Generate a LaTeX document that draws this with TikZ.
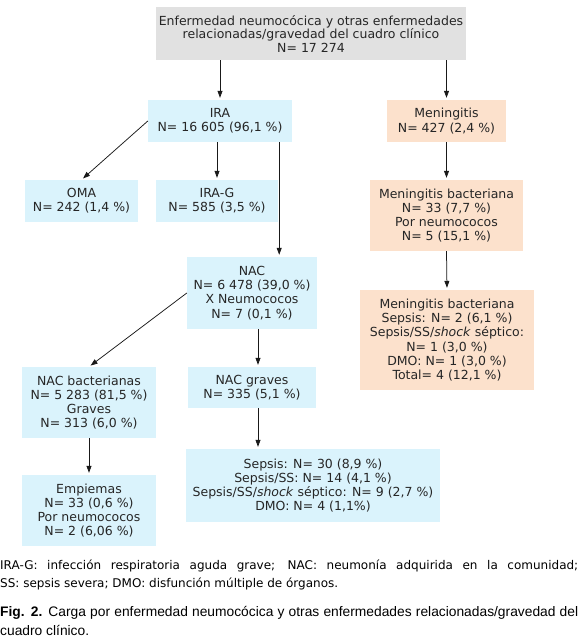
\documentclass[tikz,border=0pt]{standalone}
\usepackage{fontspec}
\setmainfont{DejaVu Sans}
\newfontfamily\figfont{Liberation Sans}
\usetikzlibrary{arrows.meta}
\definecolor{irablue}{RGB}{218,243,252}
\definecolor{menpeach}{RGB}{252,225,204}
\definecolor{topgray}{RGB}{225,225,225}
\begin{document}
\begin{tikzpicture}[x=1pt,y=-1pt,
    box/.style={align=center,inner sep=0pt,font=\fontsize{12.5}{14.2}\selectfont,text=black!85},
    bluebox/.style={box,fill=irablue},
    peachbox/.style={box,fill=menpeach},
    link/.style={-{Triangle[length=7pt,width=5pt]},line width=0.75pt,black!90,shorten >=2pt}]
  \useasboundingbox (0,0) rectangle (580,643);
  \draw
    (311,33.5) node[box,fill=topgray,minimum width=310,minimum height=53,
      font=\fontsize{12.5}{13.5}\selectfont] (top)
      {Enfermedad neumocócica y otras enfermedades\\relacionadas/gravedad del cuadro clínico\\N= 17 274}
    (220,121) node[bluebox,minimum width=144,minimum height=42] (ira)
      {IRA\\N= 16 605 (96,1 \%)}
    (446.5,121) node[peachbox,minimum width=119,minimum height=42] (men)
      {Meningitis\\N= 427 (2,4 \%)}
    (81.5,201) node[bluebox,minimum width=113,minimum height=42] (oma)
      {OMA\\N= 242 (1,4 \%)}
    (217,201) node[bluebox,minimum width=122,minimum height=42] (irag)
      {IRA-G\\N= 585 (3,5 \%)}
    (252,293) node[bluebox,minimum width=130,minimum height=72] (nac)
      {NAC\\N= 6 478 (39,0 \%)\\X Neumococos\\N= 7 (0,1 \%)}
    (89,402.5) node[bluebox,minimum width=134,minimum height=71] (nacb)
      {NAC bacterianas\\N= 5 283 (81,5 \%)\\Graves\\N= 313 (6,0 \%)}
    (252,387.5) node[bluebox,minimum width=128,minimum height=41] (nacg)
      {NAC graves\\N= 335 (5,1 \%)}
    (89,510.5) node[bluebox,minimum width=134,minimum height=71] (emp)
      {Empiemas\\N= 33 (0,6 \%)\\Por neumococos\\N= 2 (6,06 \%)}
    (313,485.5) node[bluebox,minimum width=254,minimum height=73] (sep)
      {Sepsis: N= 30 (8,9 \%)\\Sepsis/SS: N= 14 (4,1 \%)\\Sepsis/SS/\textit{shock} séptico: N= 9 (2,7 \%)\\DMO: N= 4 (1,1\%)}
    (446.5,215.5) node[peachbox,minimum width=153,minimum height=71] (menb)
      {Meningitis bacteriana\\N= 33 (7,7 \%)\\Por neumococos\\N= 5 (15,1 \%)}
    (447,340) node[peachbox,minimum width=174,minimum height=100] (mens)
      {Meningitis bacteriana\\Sepsis: N= 2 (6,1 \%)\\Sepsis/SS/\textit{shock} séptico:\\N= 1 (3,0 \%)\\DMO: N= 1 (3,0 \%)\\Total= 4 (12,1 \%)};
  \path (ira.south east) ++(-13,0) coordinate (irab)
        (nac.south) ++(6,0) coordinate (nacs)
        (nacg.south) ++(6,0) coordinate (nacgs);
  \begin{scope}[link]
    \draw (ira.north |- top.south) to (ira.north);
    \draw (men.north |- top.south) to (men.north);
    \draw (ira.west) to (oma.north);
    \draw (irag.north |- ira.south) to (irag.north);
    \draw (irab) to (irab |- nac.north);
    \draw (nac.west) to (nacb.north);
    \draw (nacs) to (nacs |- nacg.north);
    \draw (nacgs) to (nacgs |- sep.north);
    \draw (nacb.south) to (emp.north);
    \draw (men.south) to (menb.north);
    \draw (menb.south) to (mens.north);
  \end{scope}
  % notes under the chart
  \node[anchor=north west,inner sep=0pt,text width=578pt,align=justify,
    font=\fontsize{12}{18}\selectfont] (note) at (0,560)
    {IRA-G: infección respiratoria aguda grave; NAC: neumonía adquirida en la comunidad;\linebreak
     SS: sepsis severa; DMO: disfunción múltiple de órganos.};
  \node[anchor=north west,inner sep=0pt,text width=578pt,align=justify,
    font=\figfont\fontsize{13.8}{19}\selectfont] (cap) at (0,606)
    {\textbf{Fig. 2.} Carga por enfermedad neumocócica y otras enfermedades relacionadas/gravedad del\linebreak
     cuadro clínico.};
\end{tikzpicture}
\end{document}
